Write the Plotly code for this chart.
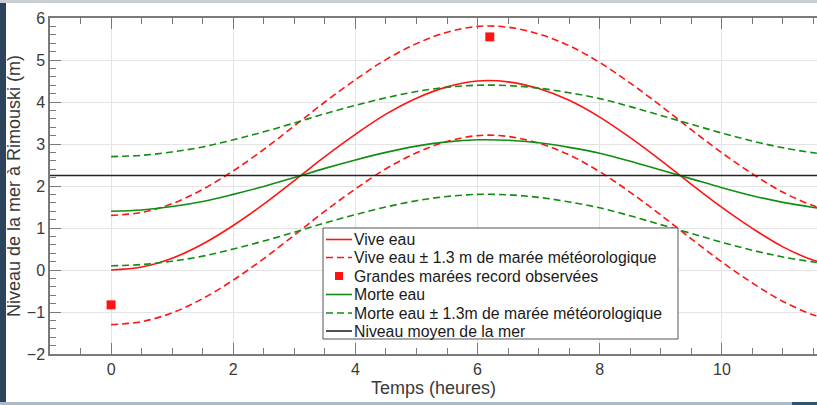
import plotly.graph_objects as go

# ---- data ----
temps = [0, 0.5, 1, 1.5, 2, 2.5, 3, 3.5, 4, 4.5, 5, 5.5, 6, 6.5, 7, 7.5, 8, 8.5,
         9, 9.5, 10, 10.5, 11, 11.5, 11.6]

vive_eau = [0.00, 0.07, 0.28, 0.62, 1.06, 1.57, 2.13, 2.70, 3.23, 3.71, 4.09, 4.36,
            4.50, 4.48, 4.32, 4.04, 3.64, 3.15, 2.61, 2.04, 1.49, 0.99, 0.55, 0.23, 0.19]
vive_haut = [1.30, 1.37, 1.58, 1.92, 2.36, 2.87, 3.43, 4.00, 4.53, 5.01, 5.39, 5.66,
             5.80, 5.78, 5.62, 5.34, 4.94, 4.45, 3.91, 3.34, 2.79, 2.29, 1.85, 1.53, 1.49]
vive_bas = [-1.30, -1.23, -1.02, -0.68, -0.24, 0.27, 0.83, 1.40, 1.93, 2.41, 2.79, 3.06,
            3.20, 3.18, 3.02, 2.74, 2.34, 1.85, 1.31, 0.74, 0.19, -0.31, -0.75, -1.07, -1.11]

morte_eau = [1.40, 1.43, 1.51, 1.63, 1.80, 1.99, 2.20, 2.42, 2.62, 2.80, 2.95, 3.05,
             3.10, 3.09, 3.03, 2.92, 2.78, 2.59, 2.38, 2.17, 1.96, 1.77, 1.61, 1.49, 1.47]
morte_haut = [2.70, 2.73, 2.81, 2.93, 3.10, 3.29, 3.50, 3.72, 3.92, 4.10, 4.25, 4.35,
              4.40, 4.39, 4.33, 4.22, 4.08, 3.89, 3.68, 3.47, 3.26, 3.07, 2.91, 2.79, 2.77]
morte_bas = [0.10, 0.13, 0.21, 0.33, 0.50, 0.69, 0.90, 1.12, 1.32, 1.50, 1.65, 1.75,
             1.80, 1.79, 1.73, 1.62, 1.48, 1.29, 1.08, 0.87, 0.66, 0.47, 0.31, 0.19, 0.17]

record_t = [0, 6.2]
record_h = [-0.83, 5.55]

niveau_t = [-1, 11.6]
niveau_moyen = [2.25, 2.25]

x_ticks = [0, 2, 4, 6, 8, 10]
y_ticks = [-2, -1, 0, 1, 2, 3, 4, 5, 6]

legend_labels = [
    "Vive eau",
    "Vive eau \u00b1 1.3 m de mar\u00e9e m\u00e9t\u00e9orologique",
    "Grandes mar\u00e9es record observ\u00e9es",
    "Morte eau",
    "Morte eau \u00b1 1.3m de mar\u00e9e m\u00e9t\u00e9orologique",
    "Niveau moyen de la mer",
]

# ---- styling ----
RED = "#ff1414"
GREEN = "#138c13"
BLACK = "#262626"
FONT = "Liberation Sans, Arial, sans-serif"
DASH = "7px,4px"
LW = 1.6

fig = go.Figure()

fig.add_trace(go.Scatter(x=temps, y=vive_eau, mode="lines", name=legend_labels[0],
                         line=dict(color=RED, width=LW, shape="spline")))
fig.add_trace(go.Scatter(x=temps, y=vive_haut, mode="lines", name=legend_labels[1],
                         line=dict(color=RED, width=LW, dash=DASH, shape="spline")))
fig.add_trace(go.Scatter(x=temps, y=vive_bas, mode="lines", name=legend_labels[1],
                         line=dict(color=RED, width=LW, dash=DASH, shape="spline")))
fig.add_trace(go.Scatter(x=record_t, y=record_h, mode="markers", name=legend_labels[2],
                         marker=dict(color=RED, size=9, symbol="square")))
fig.add_trace(go.Scatter(x=temps, y=morte_eau, mode="lines", name=legend_labels[3],
                         line=dict(color=GREEN, width=LW, shape="spline")))
fig.add_trace(go.Scatter(x=temps, y=morte_haut, mode="lines", name=legend_labels[4],
                         line=dict(color=GREEN, width=LW, dash=DASH, shape="spline")))
fig.add_trace(go.Scatter(x=temps, y=morte_bas, mode="lines", name=legend_labels[4],
                         line=dict(color=GREEN, width=LW, dash=DASH, shape="spline")))
fig.add_trace(go.Scatter(x=niveau_t, y=niveau_moyen, mode="lines", name=legend_labels[5],
                         line=dict(color=BLACK, width=LW)))

L, R, T, B = 50, 0, 18, 51
W, H = 817, 405
pw, ph = W - L - R, H - T - B


def px_x(p):
    return (p - L) / pw


def px_y(p):
    return (H - B - p) / ph


shapes = [
    # photo border strips around the screenshot
    dict(type="rect", xref="paper", yref="paper", x0=px_x(0), x1=px_x(6),
         y0=px_y(H), y1=px_y(0), fillcolor="#2c445c", line_width=0, layer="above"),
    dict(type="rect", xref="paper", yref="paper", x0=px_x(0), x1=px_x(W),
         y0=px_y(H), y1=px_y(402), fillcolor="#a9bccd", line_width=0, layer="above"),
    dict(type="rect", xref="paper", yref="paper", x0=px_x(792), x1=px_x(W),
         y0=px_y(H), y1=px_y(402), fillcolor="#2a5570", line_width=0, layer="above"),
    dict(type="rect", xref="paper", yref="paper", x0=px_x(0), x1=px_x(W),
         y0=px_y(3), y1=px_y(0), fillcolor="#c9ced3", line_width=0, layer="above"),
]

# ---- legend box drawn by hand (MATLAB-like compact rows) ----
LEG_L, LEG_R, LEG_T, LEG_B = 323, 678, 228, 339
row_y = [239.5, 257.5, 276, 294.5, 313, 331]
sym_x0, sym_x1, text_x = 326, 352, 352
legend_styles = [
    ("line", RED, None), ("line", RED, DASH), ("marker", RED, None),
    ("line", GREEN, None), ("line", GREEN, DASH), ("line", BLACK, None),
]
shapes.append(dict(type="rect", xref="paper", yref="paper",
                   x0=px_x(LEG_L), x1=px_x(LEG_R), y0=px_y(LEG_B), y1=px_y(LEG_T),
                   fillcolor="white", line=dict(color="#555555", width=1), layer="above"))
annotations = []
for (kind, col, dash), yy, lab in zip(legend_styles, row_y, legend_labels):
    if kind == "line":
        shapes.append(dict(type="line", xref="paper", yref="paper",
                           x0=px_x(sym_x0), x1=px_x(sym_x1), y0=px_y(yy), y1=px_y(yy),
                           line=dict(color=col, width=LW, dash=dash or "solid"),
                           layer="above"))
    else:
        cx = (sym_x0 + sym_x1) / 2
        shapes.append(dict(type="rect", xref="paper", yref="paper",
                           x0=px_x(cx - 4), x1=px_x(cx + 4),
                           y0=px_y(yy + 4), y1=px_y(yy - 4),
                           fillcolor=col, line_width=0, layer="above"))
    annotations.append(dict(xref="paper", yref="paper", x=px_x(text_x), y=px_y(yy),
                            xanchor="left", yanchor="middle", showarrow=False,
                            text=lab, font=dict(family=FONT, size=15.8, color="#1a1a1a")))

axis_common = dict(
    showline=True, linecolor="#7a7a7a", linewidth=1.5,
    ticks="inside", tickcolor="#7a7a7a", tickwidth=1.2, ticklen=11,
    showgrid=True, gridcolor="#e4e4e4", gridwidth=1,
    zeroline=False,
    tickfont=dict(family=FONT, size=16, color="#3a3a3a"),
)

fig.update_layout(
    width=W, height=H,
    margin=dict(l=L, r=R, t=T, b=B),
    paper_bgcolor="white", plot_bgcolor="white",
    font=dict(family=FONT),
    showlegend=False,
    xaxis=dict(range=[-1, -1 + pw / 61.08], tickvals=x_ticks, mirror="ticks",
               minor=dict(dtick=0.5, ticks="inside", ticklen=6, tickcolor="#7a7a7a",
                          showgrid=False),
               title=dict(text="Temps (heures)", font=dict(size=18, color="#3a3a3a"),
                          standoff=4),
               **axis_common),
    yaxis=dict(range=[-2, 6], tickvals=y_ticks, mirror=False,
               minor=dict(dtick=0.2, ticks="inside", ticklen=6, tickcolor="#7a7a7a",
                          showgrid=False),
               title=dict(text="Niveau de la mer \u00e0 Rimouski (m)",
                          font=dict(size=18, color="#3a3a3a"), standoff=1),
               **axis_common),
    shapes=shapes,
    annotations=annotations,
)

fig.write_html(
    "out.html",
    config={"displayModeBar": False},
    post_script="document.body.style.margin='0';document.body.style.padding='0';"
                "document.body.style.overflow='hidden';",
)
